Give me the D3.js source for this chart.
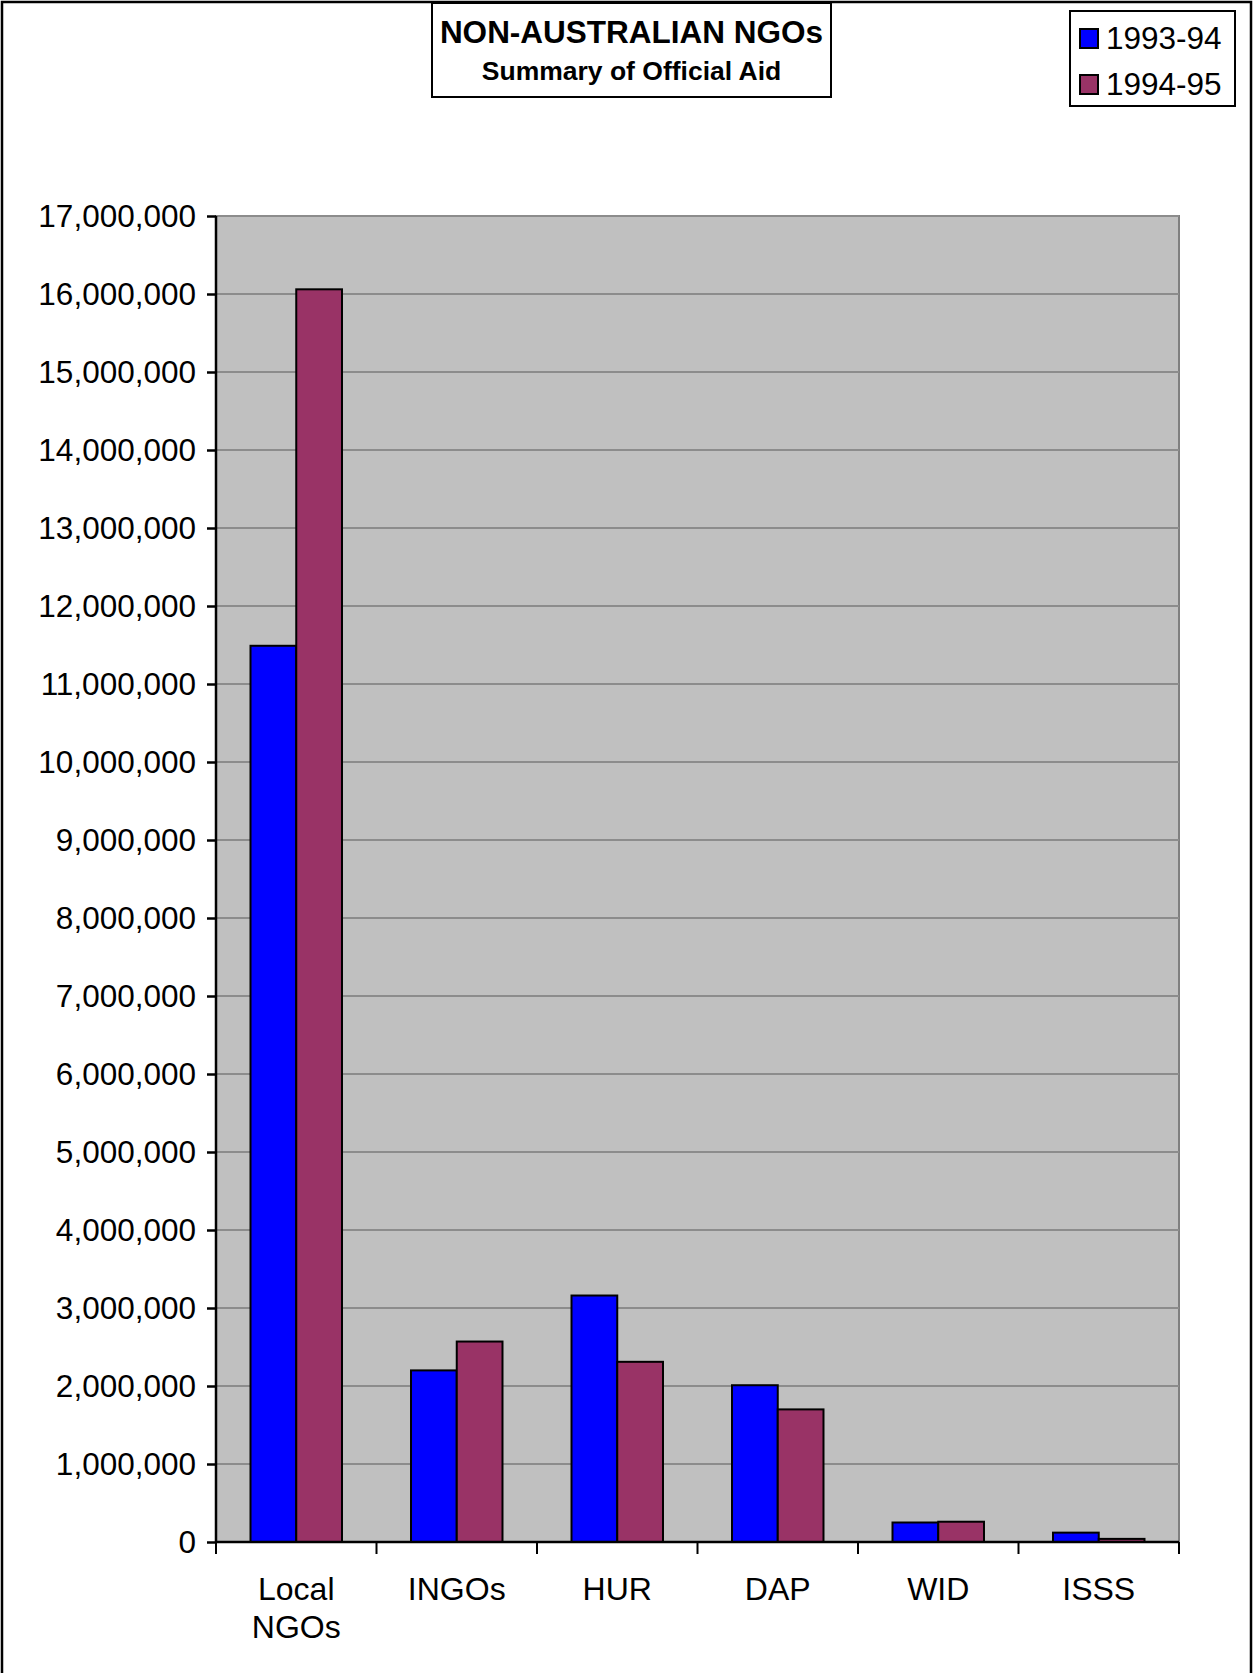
<!DOCTYPE html>
<html>
<head>
<meta charset="utf-8">
<script src="https://cdn.jsdelivr.net/npm/d3@7"></script>
<style>
  body { margin: 0; background: #fff; }
  svg { display: block; font-family: "Liberation Sans", Arial, sans-serif; }
</style>
</head>
<body>
<svg id="chart"></svg>
<script>
// data
const categories = [["Local", "NGOs"], ["INGOs"], ["HUR"], ["DAP"], ["WID"], ["ISSS"]];
const seriesNames = ["1993-94", "1994-95"];
const values9394 = [11490000, 2200000, 3160000, 2010000, 250000, 120000];
const values9495 = [16060000, 2570000, 2310000, 1700000, 260000, 40000];
const yTicks = d3.range(0, 17000001, 1000000);
const colors = ["#0000ff", "#993366"];

const W = 1253, H = 1673;
const margin = { top: 216, right: 74, bottom: 131, left: 216 };
const width = W - margin.left - margin.right;
const height = H - margin.top - margin.bottom;

const svg = d3.select("#chart").attr("width", W).attr("height", H);

// chart area border
svg.append("rect")
    .attr("x", 2).attr("y", 2)
    .attr("width", W - 4).attr("height", H + 20)
    .attr("fill", "#fff")
    .attr("stroke", "#000")
    .attr("stroke-width", 2.5);

const g = svg.append("g").attr("transform", `translate(${margin.left},${margin.top})`);

const x = d3.scaleBand()
    .domain(d3.range(categories.length))
    .range([0, width]);

const x1 = d3.scaleBand()
    .domain(seriesNames)
    .range([x.bandwidth() * 0.215, x.bandwidth() * 0.785]);

const y = d3.scaleLinear()
    .domain([0, 17000000])
    .range([height, 0]);

// plot background
g.append("rect")
    .attr("width", width)
    .attr("height", height)
    .attr("fill", "#c0c0c0")
    .attr("stroke", "#808080")
    .attr("stroke-width", 2);

// gridlines
g.append("g")
    .selectAll("line")
    .data(yTicks.slice(1))
    .enter()
    .append("line")
    .attr("x1", 0).attr("x2", width)
    .attr("y1", d => y(d)).attr("y2", d => y(d))
    .attr("stroke", "#8c8c8c")
    .attr("stroke-width", 2);

// bars
const rows = categories.map((c, i) => ({ i, vals: [values9394[i], values9495[i]] }));
g.selectAll("g.cat")
    .data(rows)
    .enter()
    .append("g")
    .attr("class", "cat")
    .attr("transform", d => `translate(${x(d.i)},0)`)
    .selectAll("rect")
    .data(d => d.vals.map((v, k) => ({ name: seriesNames[k], v, k })))
    .enter()
    .append("rect")
    .attr("x", d => x1(d.name))
    .attr("width", x1.bandwidth())
    .attr("y", d => y(d.v))
    .attr("height", d => y(0) - y(d.v))
    .attr("fill", d => colors[d.k])
    .attr("stroke", "#000")
    .attr("stroke-width", 2);

// y axis
const yAxis = g.append("g")
    .call(d3.axisLeft(y).tickValues(yTicks).tickFormat(d3.format(",")).tickSize(9).tickPadding(11));
yAxis.select(".domain").attr("stroke-width", 2.5).attr("d", `M0,0V${height}`);
yAxis.selectAll(".tick line").attr("stroke-width", 2.5);
yAxis.selectAll("text").attr("font-size", 31.5).attr("fill", "#000")
    .attr("font-family", "Liberation Sans, Arial, sans-serif");

// x axis
const xAxis = g.append("g")
    .attr("transform", `translate(0,${height})`);
xAxis.append("line")
    .attr("x1", 0).attr("x2", width)
    .attr("stroke", "#000").attr("stroke-width", 2.5);
xAxis.selectAll("line.tk")
    .data(d3.range(categories.length + 1))
    .enter()
    .append("line")
    .attr("class", "tk")
    .attr("x1", d => d * x.step()).attr("x2", d => d * x.step())
    .attr("y1", 0).attr("y2", 12)
    .attr("stroke", "#000").attr("stroke-width", 2);
xAxis.selectAll("text")
    .data(categories)
    .enter()
    .append("text")
    .attr("x", (d, i) => x(i) + x.bandwidth() / 2)
    .attr("y", 58)
    .attr("text-anchor", "middle")
    .attr("font-size", 32)
    .selectAll("tspan")
    .data(d => d)
    .enter()
    .append("tspan")
    .attr("x", function () { return d3.select(this.parentNode).attr("x"); })
    .attr("dy", (d, i) => i === 0 ? 0 : 38)
    .text(d => d);

// title box
const title = svg.append("g");
title.append("rect")
    .attr("x", 432).attr("y", 3)
    .attr("width", 399).attr("height", 94)
    .attr("fill", "#fff").attr("stroke", "#000").attr("stroke-width", 2);
title.append("text")
    .attr("x", 631.5).attr("y", 43)
    .attr("text-anchor", "middle")
    .attr("font-size", 31.5).attr("font-weight", "bold")
    .text("NON-AUSTRALIAN NGOs");
title.append("text")
    .attr("x", 631.5).attr("y", 80)
    .attr("text-anchor", "middle")
    .attr("font-size", 26.5).attr("font-weight", "bold")
    .text("Summary of Official Aid");

// legend
const legend = svg.append("g");
legend.append("rect")
    .attr("x", 1070).attr("y", 11)
    .attr("width", 165).attr("height", 95)
    .attr("fill", "#fff").attr("stroke", "#000").attr("stroke-width", 2);
const li = legend.selectAll("g.item")
    .data(seriesNames)
    .enter()
    .append("g")
    .attr("class", "item")
    .attr("transform", (d, i) => `translate(1080,${29 + i * 46})`);
li.append("rect")
    .attr("width", 18).attr("height", 19)
    .attr("fill", (d, i) => colors[i])
    .attr("stroke", "#000").attr("stroke-width", 2);
li.append("text")
    .attr("x", 26).attr("y", 20)
    .attr("font-size", 31.5)
    .text(d => d);
</script>
</body>
</html>
